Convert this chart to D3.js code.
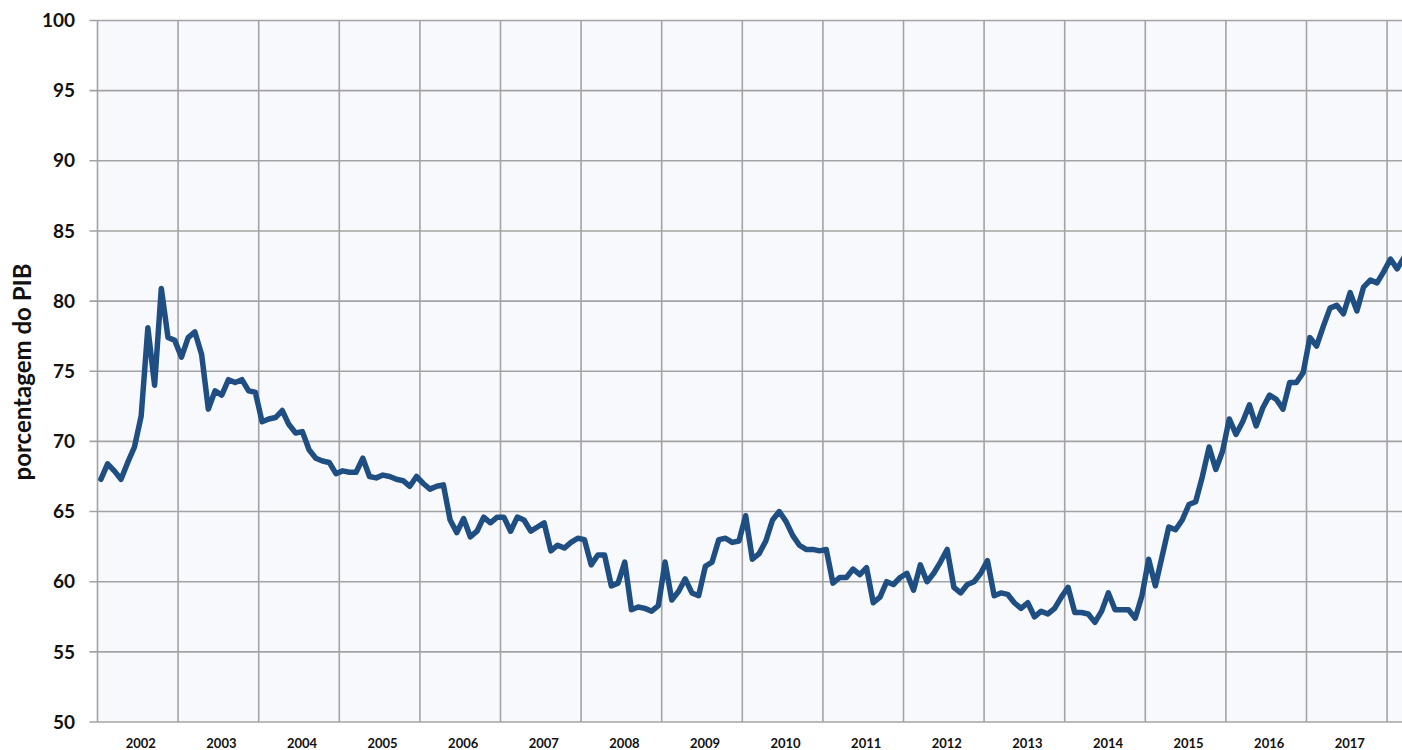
<!DOCTYPE html>
<html>
<head>
<meta charset="utf-8">
<script src="https://cdn.jsdelivr.net/npm/d3@7"></script>
<style>
  body { margin: 0; background: #fff; }
  svg { display: block; font-family: Lato, "Open Sans", sans-serif; }
</style>
</head>
<body>
<svg id="chart"></svg>
<script>
const width = 1402;
const height = 750;

// monthly values, Jan 2002 onwards (% of GDP)
const startYear = 2002;
const debt = [
  67.3, 68.4, 67.9, 67.3, 68.5, 69.6, 71.8, 78.1, 74.0, 80.9, 77.4, 77.2, // 2002
  76.0, 77.4, 77.8, 76.2, 72.3, 73.6, 73.3, 74.4, 74.2, 74.4, 73.6, 73.5, // 2003
  71.4, 71.6, 71.7, 72.2, 71.2, 70.6, 70.7, 69.4, 68.8, 68.6, 68.5, 67.7, // 2004
  67.9, 67.8, 67.8, 68.8, 67.5, 67.4, 67.6, 67.5, 67.3, 67.2, 66.8, 67.5, // 2005
  67.0, 66.6, 66.8, 66.9, 64.4, 63.5, 64.5, 63.2, 63.6, 64.6, 64.2, 64.6, // 2006
  64.6, 63.6, 64.6, 64.4, 63.6, 63.9, 64.2, 62.2, 62.6, 62.4, 62.8, 63.1, // 2007
  63.0, 61.2, 61.9, 61.9, 59.7, 59.9, 61.4, 58.0, 58.2, 58.1, 57.9, 58.3, // 2008
  61.4, 58.7, 59.3, 60.2, 59.2, 59.0, 61.1, 61.4, 63.0, 63.1, 62.8, 62.9, // 2009
  64.7, 61.6, 62.0, 62.9, 64.4, 65.0, 64.3, 63.3, 62.6, 62.3, 62.3, 62.2, // 2010
  62.3, 59.9, 60.3, 60.3, 60.9, 60.5, 61.0, 58.5, 58.9, 60.0, 59.8, 60.3, // 2011
  60.6, 59.4, 61.2, 60.0, 60.6, 61.4, 62.3, 59.6, 59.2, 59.8, 60.0, 60.6, // 2012
  61.5, 59.0, 59.2, 59.1, 58.5, 58.1, 58.5, 57.5, 57.9, 57.7, 58.1, 58.9, // 2013
  59.6, 57.8, 57.8, 57.7, 57.1, 57.9, 59.2, 58.0, 58.0, 58.0, 57.4, 59.0, // 2014
  61.6, 59.7, 61.8, 63.9, 63.7, 64.4, 65.5, 65.7, 67.5, 69.6, 68.0, 69.3, // 2015
  71.6, 70.5, 71.4, 72.6, 71.1, 72.4, 73.3, 73.0, 72.3, 74.2, 74.2, 74.9, // 2016
  77.4, 76.8, 78.2, 79.5, 79.7, 79.1, 80.6, 79.3, 81.0, 81.5, 81.3, 82.1, // 2017
  83.0, 82.3, 83.1                                                         // 2018
];
const yearLabels = [2002, 2003, 2004, 2005, 2006, 2007, 2008, 2009, 2010, 2011, 2012, 2013, 2014, 2015, 2016, 2017];
const gridYears = d3.range(2002, 2019);
const yTicks = [50, 55, 60, 65, 70, 75, 80, 85, 90, 95, 100];

const plot = { left: 97.5, right: 1402, top: 20.5, bottom: 722 };

const x = d3.scaleLinear()
    .domain([2002, 2002 + (plot.right - plot.left) / 80.6])
    .range([plot.left, plot.right]);
const y = d3.scaleLinear().domain([50, 100]).range([plot.bottom, plot.top]);

const points = debt.map((v, i) => ({ t: startYear + (i + 0.5) / 12, v: v }));

const svg = d3.select("#chart")
    .attr("width", width)
    .attr("height", height);

svg.append("defs").append("clipPath")
    .attr("id", "clip")
  .append("rect")
    .attr("x", plot.left)
    .attr("y", plot.top - 5)
    .attr("width", plot.right - plot.left)
    .attr("height", plot.bottom - plot.top + 10);

// plot background
svg.append("rect")
    .attr("x", plot.left)
    .attr("y", plot.top)
    .attr("width", plot.right - plot.left)
    .attr("height", plot.bottom - plot.top)
    .attr("fill", "#f8f9fc");

const gridColor = "#a3a3a3";

// horizontal grid + ticks
svg.append("g")
  .selectAll("line")
  .data(yTicks)
  .join("line")
    .attr("x1", plot.left - 8)
    .attr("x2", plot.right)
    .attr("y1", d => y(d))
    .attr("y2", d => y(d))
    .attr("stroke", gridColor)
    .attr("stroke-width", 1.6);

// vertical grid at year boundaries
svg.append("g")
  .selectAll("line")
  .data(gridYears)
  .join("line")
    .attr("x1", d => x(d))
    .attr("x2", d => x(d))
    .attr("y1", plot.top)
    .attr("y2", plot.bottom)
    .attr("stroke", gridColor)
    .attr("stroke-width", 1.6);

// y tick labels
svg.append("g")
  .selectAll("text")
  .data(yTicks)
  .join("text")
    .attr("x", 75)
    .attr("y", d => y(d))
    .attr("dy", "0.35em")
    .attr("text-anchor", "end")
    .attr("font-size", 19)
    .attr("font-weight", "bold")
    .attr("fill", "#111")
    .text(d => d);

// year labels
svg.append("g")
  .selectAll("text")
  .data(yearLabels)
  .join("text")
    .attr("x", d => x(d + 0.5) + 3)
    .attr("y", 748)
    .attr("text-anchor", "middle")
    .attr("font-size", 13)
    .attr("font-weight", "bold")
    .attr("fill", "#111")
    .text(d => d);

// axis title
svg.append("text")
    .attr("transform", "translate(31,372) rotate(-90)")
    .attr("text-anchor", "middle")
    .attr("font-size", 24)
    .attr("font-weight", "bold")
    .attr("fill", "#111")
    .text("porcentagem do PIB");

const line = d3.line()
    .x(d => x(d.t))
    .y(d => y(d.v));

svg.append("path")
    .datum(points)
    .attr("clip-path", "url(#clip)")
    .attr("fill", "none")
    .attr("stroke", "#1f4e82")
    .attr("stroke-width", 5.5)
    .attr("stroke-linejoin", "round")
    .attr("stroke-linecap", "round")
    .attr("d", line);
</script>
</body>
</html>
